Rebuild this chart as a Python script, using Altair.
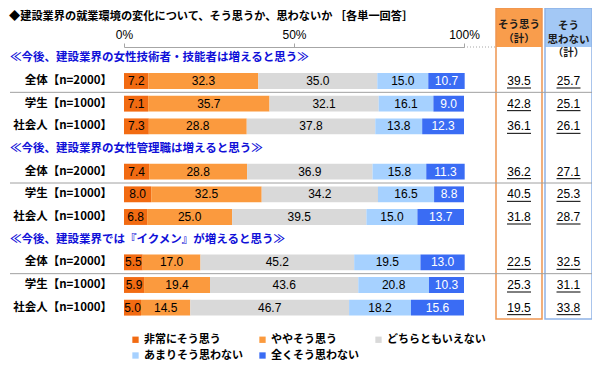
import altair as alt
import pandas as pd

# ---------------- data ----------------
title_text = "◆建設業界の就業環境の変化について、そう思うか、思わないか ［各単一回答］"
questions = [
    "≪今後、建設業界の女性技術者・技能者は増えると思う≫",
    "≪今後、建設業界の女性管理職は増えると思う≫",
    "≪今後、建設業界では『イクメン』が増えると思う≫",
]
respondents = ["全体【n=2000】", "学生【n=1000】", "社会人【n=1000】"]
categories = ["非常にそう思う", "ややそう思う", "どちらともいえない", "あまりそう思わない", "全くそう思わない"]
colors = ["#F26B12", "#FB9A3E", "#D9D9D9", "#A6D1FF", "#3A6CF4"]

very = [7.2, 7.1, 7.3, 7.4, 8.0, 6.8, 5.5, 5.9, 5.0]
some = [32.3, 35.7, 28.8, 28.8, 32.5, 25.0, 17.0, 19.4, 14.5]
neutral = [35.0, 32.1, 37.8, 36.9, 34.2, 39.5, 45.2, 43.6, 46.7]
notmuch = [15.0, 16.1, 13.8, 15.8, 16.5, 15.0, 19.5, 20.8, 18.2]
notatall = [10.7, 9.0, 12.3, 11.3, 8.8, 13.7, 13.0, 10.3, 15.6]

agree_total = [39.5, 42.8, 36.1, 36.2, 40.5, 31.8, 22.5, 25.3, 19.5]
disagree_total = [25.7, 25.1, 26.1, 27.1, 25.3, 28.7, 32.5, 31.1, 33.8]

box_headers = ["そう思う\n（計）", "そう\n思わない\n（計）"]

# ---------------- tables ----------------
series = [very, some, neutral, notmuch, notatall]
slot_order = []
for qi in range(len(questions)):
    slot_order.append(f"h{qi}")
    for ri in range(len(respondents)):
        slot_order.append(f"r{qi}{ri}")

bar_rows, label_rows, total_rows = [], [], []
for k in range(len(very)):
    qi, ri = divmod(k, 3)
    slot = f"r{qi}{ri}"
    cum = 0.0
    for ci, cat in enumerate(categories):
        v = series[ci][k]
        bar_rows.append({
            "slot": slot, "category": cat, "value": v,
            "start": cum, "end": cum + v, "mid": cum + v / 2,
            "tc": "#FFFFFF" if ci == 4 else "#000000",
        })
        cum += v
    label_rows.append({"slot": slot, "label": respondents[ri]})
    total_rows.append({"slot": slot, "agree": agree_total[k], "disagree": disagree_total[k]})

bars_df = pd.DataFrame(bar_rows)
labels_df = pd.DataFrame(label_rows)
totals_df = pd.DataFrame(total_rows)
headers_df = pd.DataFrame({"slot": [f"h{i}" for i in range(len(questions))], "text": questions})
sep_df = pd.DataFrame({"slot": [f"r{i}0" for i in range(len(questions))]})
one = pd.DataFrame({"t": [title_text]})

CJK = "Noto Sans CJK JP"
NUM = "Liberation Sans"
H = 272
STEP = H / len(slot_order)

# box geometry (pixels relative to plot origin)
OX1, OX2 = 372, 418
BX1, BX2 = 421, 468
OC = (OX1 + OX2) / 2
BC = (BX1 + BX2) / 2

yenc = alt.Y("slot:N", sort=slot_order,
             scale=alt.Scale(domain=slot_order, paddingInner=0.3, paddingOuter=0.15),
             axis=None)
xscale = alt.Scale(domain=[0, 100], nice=False, zero=True)

bars = alt.Chart(bars_df).mark_bar().encode(
    x=alt.X("start:Q", scale=xscale,
            axis=alt.Axis(orient="top", values=[0, 50, 100], labelExpr="datum.value + '%'",
                          title=None, grid=False, domainColor="#A6A6A6", tickColor="#A6A6A6",
                          tickSize=4, labelFont=NUM, labelFontSize=12, labelColor="#000000",
                          labelPadding=2, labelFlush=False)),
    x2="end:Q",
    y=yenc,
    color=alt.Color("category:N",
                    scale=alt.Scale(domain=categories, range=colors),
                    legend=alt.Legend(orient="none", legendX=6, legendY=287, columns=3,
                                      direction="horizontal",
                                      title=None, symbolType="square", symbolSize=40,
                                      symbolStrokeWidth=0, labelFont=CJK, labelFontSize=11,
                                      labelFontWeight="bold", labelColor="#000000",
                                      columnPadding=14, rowPadding=4, labelLimit=300,
                                      labelOffset=3)),
)

values = alt.Chart(bars_df).mark_text(font=NUM, fontSize=12).encode(
    x="mid:Q", y=yenc, text=alt.Text("value:Q", format=".1f"),
    color=alt.Color("tc:N", scale=None),
)

labels = alt.Chart(labels_df).mark_text(font=CJK, fontSize=11.5, fontWeight="bold",
                                        align="right", color="#000000").encode(
    x=alt.value(-12), y=yenc, text="label:N")

headers = alt.Chart(headers_df).mark_text(font=CJK, fontSize=11.5, fontWeight="bold",
                                          align="left", color="#1010D8").encode(
    x=alt.value(-114), y=yenc, text="text:N")

seps = alt.Chart(sep_df).mark_rule(color="#A0A0A0", strokeWidth=1, yOffset=STEP / 2).encode(
    x=alt.value(-114), x2=alt.value(BX2), y=yenc)

# right-hand boxes
box_o_head = alt.Chart(one).mark_rect(fill="#F99D4C").encode(
    x=alt.value(OX1), x2=alt.value(OX2), y=alt.value(-39), y2=alt.value(0))
box_b_head = alt.Chart(one).mark_rect(fill="#A3C8F5").encode(
    x=alt.value(BX1), x2=alt.value(BX2), y=alt.value(-39), y2=alt.value(0))
box_o = alt.Chart(one).mark_rect(fillOpacity=0, stroke="#EE9550", strokeWidth=1.5).encode(
    x=alt.value(OX1), x2=alt.value(OX2), y=alt.value(-39), y2=alt.value(H))
box_b = alt.Chart(one).mark_rect(fillOpacity=0, stroke="#8EB2E6", strokeWidth=1.5).encode(
    x=alt.value(BX1), x2=alt.value(BX2), y=alt.value(-39), y2=alt.value(H))

head_o = alt.Chart(pd.DataFrame({"t": [box_headers[0]]})).mark_text(
    font=CJK, fontSize=10.5, fontWeight="bold", lineBreak="\n", lineHeight=14,
    align="center", baseline="middle", color="#1A1A1A").encode(
    x=alt.value(OC), y=alt.value(-22), text="t:N")
head_b = alt.Chart(pd.DataFrame({"t": [box_headers[1]]})).mark_text(
    font=CJK, fontSize=10.5, fontWeight="bold", lineBreak="\n", lineHeight=13.5,
    align="center", baseline="middle", color="#1A1A1A").encode(
    x=alt.value(BC), y=alt.value(-21), text="t:N")

agree_txt = alt.Chart(totals_df).mark_text(font=NUM, fontSize=12, color="#000000").encode(
    x=alt.value(OC), y=yenc, text=alt.Text("agree:Q", format=".1f"))
dis_txt = alt.Chart(totals_df).mark_text(font=NUM, fontSize=12, color="#000000").encode(
    x=alt.value(BC), y=yenc, text=alt.Text("disagree:Q", format=".1f"))
agree_ul = alt.Chart(totals_df).mark_rule(color="#000000", strokeWidth=1, yOffset=7).encode(
    x=alt.value(OC - 12), x2=alt.value(OC + 12), y=yenc)
dis_ul = alt.Chart(totals_df).mark_rule(color="#000000", strokeWidth=1, yOffset=7).encode(
    x=alt.value(BC - 12), x2=alt.value(BC + 12), y=yenc)

axis_ext = alt.Chart(one).mark_rule(color="#A6A6A6", strokeDash=[1, 2]).encode(
    x=alt.value(340), x2=alt.value(OX1), y=alt.value(0))

title = alt.Chart(one).mark_text(font=CJK, fontSize=11.2, fontWeight="bold", align="left",
                                 baseline="top", color="#000000").encode(
    x=alt.value(-115), y=alt.value(-36), text="t:N")

chart = alt.layer(
    box_o_head, box_b_head, box_o, box_b, axis_ext,
    bars, values, labels, headers, seps,
    head_o, head_b, agree_txt, dis_txt, agree_ul, dis_ul, title,
).properties(
    width=340, height=H,
    autosize=alt.AutoSizeParams(type="none"),
    padding={"left": 116, "top": 39, "right": 128, "bottom": 43},
).configure_view(stroke=None)

chart.save("out.html", embed_options={"renderer": "svg", "actions": False})
